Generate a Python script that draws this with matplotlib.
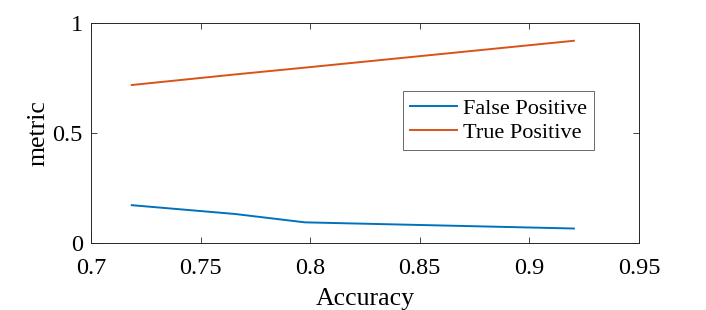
import matplotlib
matplotlib.use("Agg")
import matplotlib.pyplot as plt

# values
accuracy = [0.7186, 0.7657, 0.7976, 0.9203]
false_positive = [0.172, 0.132, 0.094, 0.066]
true_positive = [0.718, 0.766, 0.797, 0.919]

x_ticks = [0.7, 0.75, 0.8, 0.85, 0.9, 0.95]
x_tick_labels = ["0.7", "0.75", "0.8", "0.85", "0.9", "0.95"]
y_ticks = [0, 0.5, 1]
y_tick_labels = ["0", "0.5", "1"]

plt.rcParams['font.family'] = ['Liberation Serif', 'DejaVu Serif']

fig = plt.figure(figsize=(7.06, 3.10), dpi=100)
ax = fig.add_axes([0.1289, 0.216, 0.7762, 0.710])

ax.plot(accuracy, false_positive, color='#0072BD', lw=1.4, label='False Positive')
ax.plot(accuracy, true_positive, color='#D95319', lw=1.4, label='True Positive')

ax.set_xlim(0.7, 0.95)
ax.set_ylim(0, 1)
ax.set_xticks(x_ticks)
ax.set_xticklabels(x_tick_labels)
ax.set_yticks(y_ticks)
ax.set_yticklabels(y_tick_labels)
ax.tick_params(direction='in', top=True, right=True, length=4, width=0.6,
               color='#262626', labelsize=17.5)
ax.tick_params(axis='x', pad=10.5)
ax.tick_params(axis='y', pad=6)
for s in ax.spines.values():
    s.set_color('#262626')
    s.set_linewidth(0.7)

ax.set_xlabel('Accuracy', fontsize=18.5, labelpad=7)
ax.set_ylabel('metric', fontsize=18.5, labelpad=2)

leg = ax.legend(loc='upper left', bbox_to_anchor=(0.570, 0.6895), fontsize=16,
                frameon=True, fancybox=False, handlelength=2.1, handletextpad=0.3,
                borderpad=0.3, labelspacing=0.18, borderaxespad=0)
leg.get_frame().set_edgecolor('#262626')
leg.get_frame().set_linewidth(0.6)

fig.savefig('out.png', dpi=100)
